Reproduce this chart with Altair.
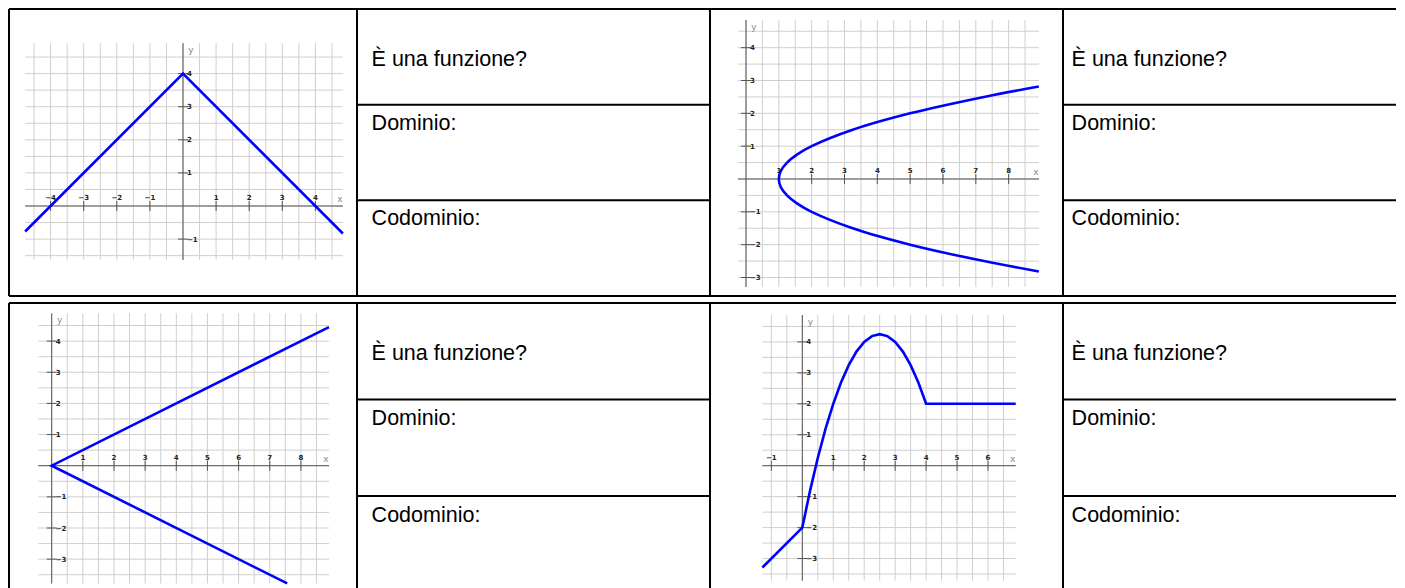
import altair as alt
import pandas as pd

# ---------------- data ----------------
DOMANDE = ["È una funzione?", "Dominio:", "Codominio:"]
RIGHE = [0, 1, 2]
SEPARATORI = [1, 2]

# graph 1 : y = 4 - |x|
G1_X = [-4.77, 0, 4.83]
G1_Y = [-0.77, 4, -0.83]
G1_GRID = [-4.77, 4.83, -1.63, 4.92]  # x min, x max, y min, y max

# graph 2 : x = y^2 + 1 (sideways parabola)
G2_Y = [-2.815, -2.5, -2, -1.5, -1, -0.75, -0.5, -0.25, 0, 0.25, 0.5, 0.75, 1, 1.5, 2, 2.5, 2.815]
G2_X = [8.92, 7.25, 5, 3.25, 2, 1.5625, 1.25, 1.0625, 1, 1.0625, 1.25, 1.5625, 2, 3.25, 5, 7.25, 8.92]
G2_GRID = [-0.244, 8.925, -3.29, 4.843]

# graph 3 : two half-lines from the origin
G3_X = [8.9, 0, 7.56]
G3_Y = [4.45, 0, -3.78]
G3_GRID = [-0.43, 8.902, -3.78, 4.892]

# graph 4 : line, parabola arc, horizontal line
G4_X = [-1.29, 0, 0.25, 0.5, 0.75, 1, 1.25, 1.5, 1.75, 2, 2.25, 2.5, 2.75, 3, 3.25, 3.5, 3.75, 4, 6.895]
G4_Y = [-3.29, -2, -0.8125, 0.25, 1.1875, 2, 2.6875, 3.25, 3.6875, 4, 4.1875, 4.25, 4.1875, 4, 3.6875, 3.25, 2.6875, 2, 2]
G4_GRID = [-1.292, 6.895, -3.716, 4.869]

# ---------------- styling / layout ----------------
GRID_C = "#cfcfcf"
AX_C = "#555555"
BLUE = "#0000ff"
BORDER = dict(color="black", strokeWidth=2)
ROW1_H = 287
ROW2_H = 290
COL_W = [348, 353, 353, 333]


def graph_panel(cx, cy, grid, ox, oy, s, W, H, interp="linear", bottom=True):
    gx0, gx1, gy0, gy1 = grid
    xdom = [-ox / s, (W - ox) / s]
    ydom = [-(H - oy) / s, oy / s]
    xs = alt.Scale(domain=xdom, nice=False, zero=False)
    ys = alt.Scale(domain=ydom, nice=False, zero=False)

    def XF(f):
        return alt.X(f, type="quantitative", scale=xs, axis=None)

    def YF(f):
        return alt.Y(f, type="quantitative", scale=ys, axis=None)

    def XD(v):
        return alt.XDatum(v, type="quantitative", scale=xs, axis=None)

    def YD(v):
        return alt.YDatum(v, type="quantitative", scale=ys, axis=None)

    half = alt.sequence(-6, 10.01, 0.5, as_="v")
    whole = alt.sequence(-6, 11, 1, as_="v")
    one = alt.Data(values=[{"k": 0}])

    vgrid = alt.Chart(half).transform_filter(
        f"datum.v >= {gx0} && datum.v <= {gx1}"
    ).mark_rule(color=GRID_C, strokeWidth=1, clip=True).encode(
        x=XF("v"), y=YD(gy0), y2=alt.datum(gy1)
    )
    hgrid = alt.Chart(half).transform_filter(
        f"datum.v >= {gy0} && datum.v <= {gy1}"
    ).mark_rule(color=GRID_C, strokeWidth=1, clip=True).encode(
        y=YF("v"), x=XD(gx0), x2=alt.datum(gx1)
    )
    xaxis = alt.Chart(one).mark_rule(color=AX_C, strokeWidth=1, clip=True).encode(
        x=XD(gx0), x2=alt.datum(gx1), y=YD(0)
    )
    yaxis = alt.Chart(one).mark_rule(color=AX_C, strokeWidth=1, clip=True).encode(
        y=YD(gy0), y2=alt.datum(gy1), x=XD(0)
    )
    lab = "datum.v < 0 ? '\u2212' + abs(datum.v) : '' + datum.v"
    xt = alt.Chart(whole).transform_filter(
        f"datum.v != 0 && datum.v >= {gx0} && datum.v <= {gx1}"
    ).transform_calculate(lab=lab)
    yt = alt.Chart(whole).transform_filter(
        f"datum.v != 0 && datum.v >= {gy0} && datum.v <= {gy1}"
    ).transform_calculate(lab=lab)
    xticks = xt.mark_tick(orient="vertical", size=10, thickness=1, color=AX_C, opacity=1, clip=True).encode(
        x=XF("v"), y=YD(0)
    )
    yticks = yt.mark_tick(orient="horizontal", size=10, thickness=1, color=AX_C, opacity=1, clip=True).encode(
        y=YF("v"), x=XD(0)
    )
    tfont = dict(font="DejaVu Sans", fontSize=7, fontWeight="bold", color="#222222", clip=True)
    xlabels = xt.mark_text(align="center", baseline="alphabetic", dy=-6, **tfont).encode(
        x=XF("v"), y=YD(0), text="lab:N"
    )
    ylabels = yt.mark_text(align="left", baseline="middle", dx=4, dy=0.5, **tfont).encode(
        y=YF("v"), x=XD(0), text="lab:N"
    )
    xname = alt.Chart(one).mark_text(
        align="center", baseline="middle", dx=-3, dy=-7, font="DejaVu Sans", fontSize=9,
        color="#8a8a8a", clip=True
    ).encode(x=XD(gx1), y=YD(0), text=alt.value("x"))
    yname = alt.Chart(one).mark_text(
        align="center", baseline="middle", dx=8, dy=7, font="DejaVu Sans", fontSize=9,
        color="#8a8a8a", clip=True
    ).encode(x=XD(0), y=YD(gy1), text=alt.value("y"))

    df = pd.DataFrame({"x": cx, "y": cy, "i": list(range(len(cx)))})
    curve = alt.Chart(df).mark_line(color=BLUE, strokeWidth=2.6, interpolate=interp, clip=True).encode(
        x=XF("x"), y=YF("y"), order="i:Q"
    )
    top_b = alt.Chart(one).mark_rule(**BORDER).encode(y=YD(ydom[1]))
    left_b = alt.Chart(one).mark_rule(**BORDER).encode(x=XD(xdom[0]))
    layers = [vgrid, hgrid, xaxis, yaxis, xticks, yticks, xlabels, ylabels, xname, yname, curve,
              top_b, left_b]
    if bottom:
        layers.append(alt.Chart(one).mark_rule(**BORDER).encode(y=YD(ydom[0])))
    return alt.layer(*layers).properties(width=W, height=H)


def text_panel(W, H, left, sub, dy_rest, bottom=True):
    top_v = 0
    bot_v = H / sub
    ys = alt.Scale(domain=[0, bot_v], reverse=True, nice=False, zero=False)
    xs = alt.Scale(domain=[0, 1], nice=False, zero=False)
    one = alt.Data(values=[{"k": 0}])
    df = pd.DataFrame({"testo": DOMANDE, "riga": RIGHE})
    seps = alt.Chart(pd.DataFrame({"r": SEPARATORI})).mark_rule(**BORDER).encode(
        y=alt.Y("r:Q", scale=ys, axis=None)
    )
    tf = dict(font="Liberation Sans", fontSize=21.5, color="black", align="left", baseline="alphabetic")
    first = alt.Chart(df).transform_filter("datum.riga == 0").mark_text(dy=57, **tf).encode(
        y=alt.Y("riga:Q", scale=ys, axis=None), x=alt.value(left), text="testo:N"
    )
    rest = alt.Chart(df).transform_filter("datum.riga > 0").mark_text(dy=dy_rest, **tf).encode(
        y=alt.Y("riga:Q", scale=ys, axis=None), x=alt.value(left), text="testo:N"
    )
    top_b = alt.Chart(one).mark_rule(**BORDER).encode(
        y=alt.YDatum(top_v, type="quantitative", scale=ys, axis=None)
    )
    left_b = alt.Chart(one).mark_rule(**BORDER).encode(
        x=alt.XDatum(0, type="quantitative", scale=xs, axis=None)
    )
    layers = [seps, first, rest, top_b, left_b]
    if bottom:
        layers.append(alt.Chart(one).mark_rule(**BORDER).encode(
            y=alt.YDatum(bot_v, type="quantitative", scale=ys, axis=None)
        ))
    return alt.layer(*layers).properties(width=W, height=H)


g1 = graph_panel(G1_X, G1_Y, G1_GRID, 174, 197, 33.1, COL_W[0], ROW1_H)
g2 = graph_panel(G2_X, G2_Y, G2_GRID, 36, 170, 32.83, COL_W[2], ROW1_H, interp="catmull-rom")
g3 = graph_panel(G3_X, G3_Y, G3_GRID, 42.7, 162.7, 31.15, COL_W[0], ROW2_H, bottom=False)
g4 = graph_panel(G4_X, G4_Y, G4_GRID, 92.3, 162.7, 30.95, COL_W[2], ROW2_H, bottom=False)

t1a = text_panel(COL_W[1], ROW1_H, 14.6, ROW1_H / 3, 25)
t1b = text_panel(COL_W[3], ROW1_H, 8.6, ROW1_H / 3, 25)
t2a = text_panel(COL_W[1], ROW2_H, 14.6, 96.5, 25.5, bottom=False)
t2b = text_panel(COL_W[3], ROW2_H, 8.6, 96.5, 25.5, bottom=False)

chart = alt.concat(
    g1, t1a, g2, t1b,
    g3, t2a, g4, t2b,
    columns=4,
    spacing=alt.RowColnumber(row=7, column=0),
).properties(
    bounds="flush", padding=0
).configure_view(strokeWidth=0, fill="white")

chart.save("out.html", embed_options={"renderer": "svg", "actions": False})
